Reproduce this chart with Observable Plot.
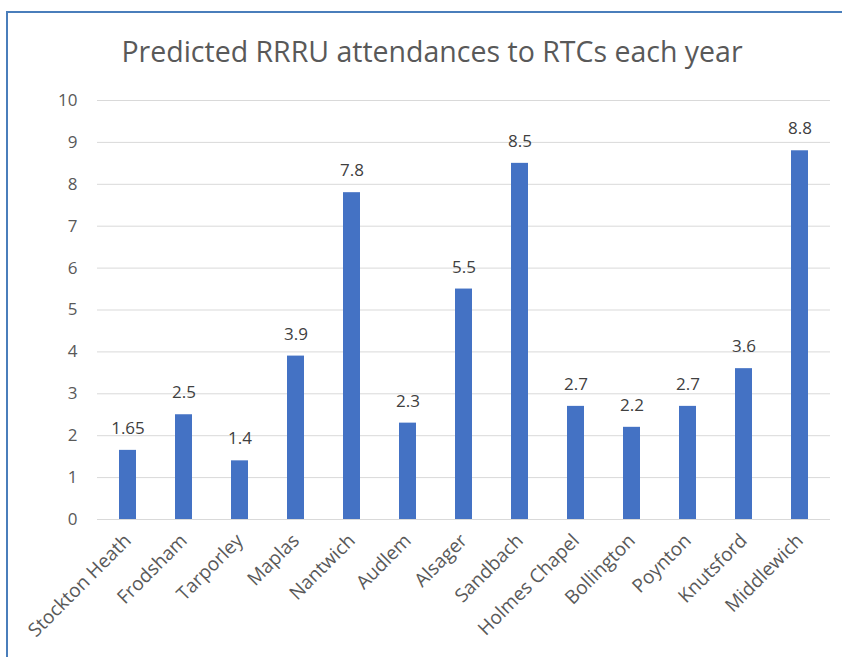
<!DOCTYPE html>
<html>
<head>
<meta charset="utf-8">
<script src="https://cdn.jsdelivr.net/npm/d3@7"></script>
<script src="https://cdn.jsdelivr.net/npm/@observablehq/plot@0.6"></script>
<style>
  html, body { margin: 0; padding: 0; background: #fff; }
  #wrap { position: relative; width: 842px; height: 657px; overflow: hidden; font-family: "Open Sans", sans-serif; }
  #frame { position: absolute; left: 6px; top: 11px; width: 900px; height: 700px; border-top: 2px solid #4a7ebb; border-left: 2px solid #4a7ebb; box-sizing: border-box; }
  #title { position: absolute; left: 0; top: 32px; width: 864px; text-align: center; font-size: 28.5px; line-height: 38px; color: #595959; font-family: "Open Sans", sans-serif; }
  #chart { position: absolute; left: 0; top: 0; }
</style>
</head>
<body>
<div id="wrap">
  <div id="frame"></div>
  <div id="chart"></div>
  <div id="title">Predicted RRRU attendances to RTCs each year</div>
</div>
<script>
const categories = ["Stockton Heath","Frodsham","Tarporley","Maplas","Nantwich","Audlem","Alsager","Sandbach","Holmes Chapel","Bollington","Poynton","Knutsford","Middlewich"];
const values = [1.65, 2.5, 1.4, 3.9, 7.8, 2.3, 5.5, 8.5, 2.7, 2.2, 2.7, 3.6, 8.8];
const valueLabels = ["1.65","2.5","1.4","3.9","7.8","2.3","5.5","8.5","2.7","2.2","2.7","3.6","8.8"];
const yTicks = [0,1,2,3,4,5,6,7,8,9,10];

const data = categories.map((c, i) => ({cat: c, v: values[i], label: valueLabels[i]}));

const chart = Plot.plot({
  width: 842,
  height: 657,
  marginTop: 100,
  marginBottom: 138,
  marginLeft: 97,
  marginRight: 12,
  style: {fontFamily: "'Open Sans', sans-serif", background: "transparent"},
  x: {domain: categories, paddingInner: 0.69, paddingOuter: 0.345, label: null},
  y: {domain: [0, 10], label: null},
  marks: [
    Plot.ruleY(yTicks, {stroke: "#d9d9d9", strokeWidth: 1}),
    Plot.barY(data, {x: "cat", y: "v", fill: "#4472c4"}),
    Plot.text(data, {x: "cat", y: "v", text: "label", dy: -22, fill: "#404040", fontSize: 17}),
    Plot.axisY({ticks: yTicks, tickSize: 0, tickPadding: 20, fontSize: 17, color: "#595959", label: null}),
    Plot.axisX({tickSize: 0, tickRotate: -45, tickPadding: 18, fontSize: 19, color: "#595959", label: null})
  ]
});
document.getElementById("chart").appendChild(chart);
</script>
</body>
</html>
